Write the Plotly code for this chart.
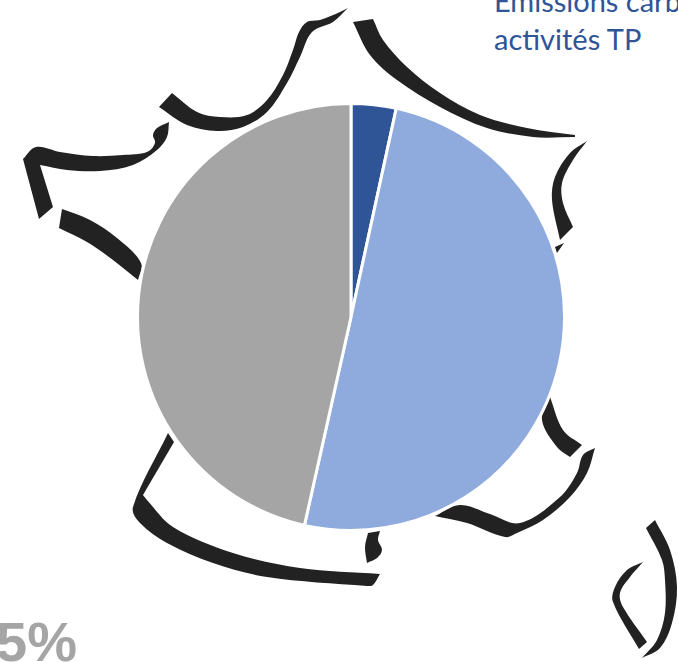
import math
import plotly.graph_objects as go

W, H = 678, 662

# Chart data
categories = ["Part A", "Part B", "Part C"]
values = [3.4, 50.1, 46.5]
colors = ["#2F5597", "#8FAADC", "#A5A5A5"]

# Decorative outline of France behind the pie (traced in pixels)
outline = [
    [(36,147),(23,159),(39,219),(53,207),(40,165),(67,170),(100,171),(133,165),(157,150),(167,137),(169,122),(157,128),(153,135),(155,143),(147,152),(123,155),(93,156),(60,152)],
    [(172,93),(159,107),(187,125),(217,131),(243,127),(267,112),(287,83),(300,57),(312,32),(333,22),(348,8),(340,12),(320,20),(307,22),(299,32),(293,50),(283,75),(267,100),(247,115),(220,117),(197,112)],
    [(62,209),(59,228),(87,242),(113,260),(138,280),(141,263),(117,238),(90,220)],
    [(353,22),(373,19),(383,40),(407,67),(440,93),(480,115),(527,128),(575,135),(575,137),(533,137),(487,128),(440,107),(397,80),(370,55)],
    [(587,141),(570,153),(555,177),(552,200),(560,240),(573,227),(563,203),(562,183),(573,160)],
    [(564,243),(555,247),(557,253)],
    [(168,433),(133,507),(140,523),(167,543),(213,563),(267,577),(367,586),(373,585),(380,574),(300,568),(233,553),(173,527),(147,500),(143,495),(174,442)],
    [(368,533),(380,531),(378,540),(382,550),(377,558),(367,563),(365,547)],
    [(550,397),(542,420),(557,447),(570,457),(582,445),(563,430)],
    [(595,448),(583,455),(577,473),(560,497),(520,523),(490,514),(460,505),(435,516),(467,523),(505,537),(517,533),(543,520),(570,497),(587,473)],
    [(655,520),(646,528),(662,560),(665,580),(665,613),(657,640),(642,658),(660,648),(672,623),(677,587),(670,550)],
    [(643,562),(627,570),(615,587),(613,602),(639,649),(647,642),(623,607),(620,593),(630,577)],
]


def fx(x):
    return x / W


def fy(y):
    return 1 - y / H


def unit(a, b):
    dx, dy = b[0] - a[0], b[1] - a[1]
    d = math.hypot(dx, dy) or 1.0
    return dx / d, dy / d


def smooth_path(pts):
    n = len(pts)
    tangents = []
    corner = []
    for i in range(n):
        a, b = unit(pts[i - 1], pts[i]), unit(pts[i], pts[(i + 1) % n])
        corner.append(a[0] * b[0] + a[1] * b[1] < 0.55)
        tangents.append(unit(pts[i - 1], pts[(i + 1) % n]))
    d = f"M{fx(pts[0][0]):.5f},{fy(pts[0][1]):.5f}"
    for i in range(n):
        j = (i + 1) % n
        p, q = pts[i], pts[j]
        s = math.hypot(q[0] - p[0], q[1] - p[1]) / 3
        seg = unit(p, q)
        t1 = seg if corner[i] else tangents[i]
        t2 = seg if corner[j] else tangents[j]
        c1 = (p[0] + t1[0] * s, p[1] + t1[1] * s)
        c2 = (q[0] - t2[0] * s, q[1] - t2[1] * s)
        d += (f" C{fx(c1[0]):.5f},{fy(c1[1]):.5f} {fx(c2[0]):.5f},{fy(c2[1]):.5f}"
              f" {fx(q[0]):.5f},{fy(q[1]):.5f}")
    return d + " Z"


shapes = [dict(type="path", xref="paper", yref="paper", layer="below",
               path=smooth_path(p), fillcolor="#222222", line=dict(width=0))
          for p in outline]

fig = go.Figure(go.Pie(
    labels=categories, values=values, sort=False, direction="clockwise", rotation=0,
    marker=dict(colors=colors, line=dict(color="white", width=3)),
    textinfo="none", hoverinfo="label+percent", showlegend=False,
    domain=dict(x=[fx(137.5), fx(564.5)], y=[fy(530.5), fy(103.5)]),
))

fig.update_layout(
    width=W, height=H, margin=dict(l=0, r=0, t=0, b=0, autoexpand=False),
    paper_bgcolor="white", plot_bgcolor="white", shapes=shapes,
    annotations=[
        dict(text="Emissions carbone<br>activités TP", xref="paper", yref="paper",
             x=fx(492), y=fy(-19), xanchor="left", yanchor="top", align="left", showarrow=False,
             font=dict(family="Lato", size=29, color="#2F5597")),
        dict(text="<b>5%</b>", xref="paper", yref="paper",
             x=fx(79), y=fy(675), xanchor="right", yanchor="bottom", showarrow=False,
             font=dict(family="Liberation Sans", size=56, color="#A5A5A5")),
    ],
)
fig.write_html("out.html", config=dict(displayModeBar=False),
               post_script="document.body.style.margin='0';document.documentElement.style.overflow='hidden';")
